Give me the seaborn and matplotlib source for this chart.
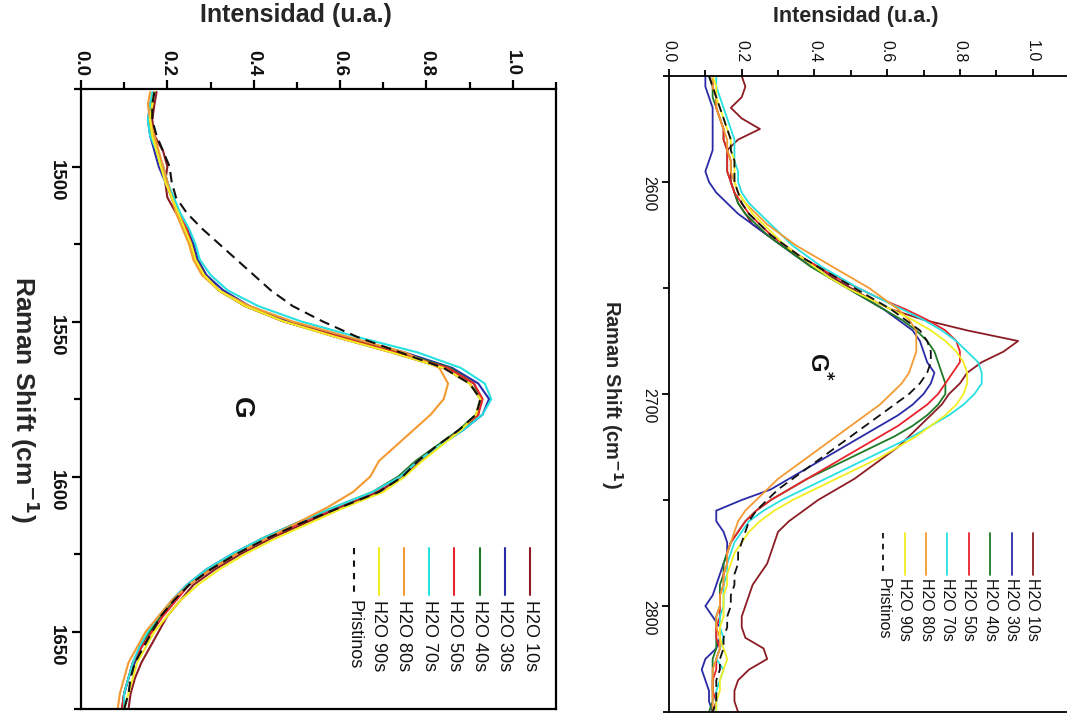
import numpy as np
import pandas as pd
import matplotlib
matplotlib.use("Agg")
import matplotlib.pyplot as plt
from matplotlib.ticker import MultipleLocator, FormatStrFormatter
import seaborn as sns

sns.set_theme(style="white")
plt.rcParams["font.family"] = ["Liberation Sans", "DejaVu Sans"]

SERIES = ["H2O 10s", "H2O 30s", "H2O 40s", "H2O 50s", "H2O 70s", "H2O 80s", "H2O 90s", "Pristinos"]
COLORS = {
    "H2O 10s": "#8c1c24",
    "H2O 30s": "#2a2aa6",
    "H2O 40s": "#1d7a26",
    "H2O 50s": "#e8232c",
    "H2O 70s": "#27e0e0",
    "H2O 80s": "#f59a32",
    "H2O 90s": "#f2ee22",
    "Pristinos": "#111111",
}

# ---- G band ----
g_shift = [1476, 1480, 1485, 1490, 1495, 1500, 1505, 1510, 1515, 1520, 1525, 1530, 1535, 1540,
           1545, 1550, 1555, 1560, 1565, 1570, 1575, 1580, 1585, 1590, 1595, 1600, 1605, 1610,
           1615, 1620, 1625, 1630, 1635, 1640, 1645, 1650, 1655, 1660, 1665, 1670, 1675]
g_10s = [.175, .17, .165, .17, .19, .20, .195, .20, .22, .245, .26, .27, .29, .32, .38, .47, .59, .72,
         .84, .90, .925, .92, .88, .83, .785, .745, .69, .60, .52, .44, .37, .31, .26, .23, .20,
         .18, .16, .14, .125, .115, .11]
g_30s = [.17, .16, .155, .16, .17, .18, .195, .21, .225, .245, .26, .27, .29, .33, .39, .48, .61, .75,
         .86, .92, .945, .93, .885, .83, .78, .74, .68, .59, .50, .42, .35, .29, .245, .21, .185,
         .16, .14, .125, .11, .10, .095]
g_40s = [.17, .16, .16, .165, .175, .19, .20, .21, .225, .24, .255, .265, .285, .32, .38, .47, .60, .74,
         .855, .91, .925, .915, .875, .825, .775, .735, .675, .585, .50, .42, .355, .295, .25, .215, .185,
         .16, .14, .12, .11, .10, .095]
g_50s = [.17, .165, .16, .165, .175, .19, .20, .21, .225, .245, .255, .265, .285, .32, .38, .47, .60, .73,
         .85, .91, .93, .92, .88, .83, .78, .74, .68, .59, .51, .43, .36, .30, .25, .22, .19,
         .165, .14, .12, .11, .10, .095]
g_70s = [.165, .16, .155, .16, .175, .19, .20, .215, .23, .25, .265, .275, .30, .34, .41, .51, .64, .78,
         .88, .935, .95, .93, .885, .83, .78, .74, .675, .585, .50, .42, .35, .29, .245, .21, .18,
         .155, .135, .12, .11, .10, .10]
g_80s = [.16, .155, .16, .17, .18, .19, .20, .21, .22, .235, .25, .26, .28, .32, .39, .49, .62, .75,
         .83, .85, .84, .81, .77, .73, .69, .67, .63, .57, .50, .43, .36, .30, .25, .21, .18,
         .15, .13, .11, .10, .09, .085]
g_90s = [.17, .165, .16, .165, .175, .185, .195, .21, .225, .24, .255, .265, .285, .32, .38, .47, .59, .72,
         .84, .90, .925, .915, .88, .835, .79, .75, .70, .61, .53, .45, .38, .32, .27, .23, .20,
         .17, .15, .13, .12, .11, .10]
g_pr = [.17, .165, .165, .175, .19, .205, .21, .22, .245, .28, .32, .36, .40, .44, .49, .56, .64, .74,
        .84, .90, .925, .915, .875, .825, .78, .745, .69, .60, .51, .43, .36, .30, .25, .215, .185,
        .165, .145, .125, .115, .11, .10]

# ---- G* band ----
gs_shift = [2550, 2555, 2560, 2565, 2570, 2575, 2580, 2585, 2590, 2595, 2600, 2605, 2610, 2615,
            2620, 2625, 2630, 2635, 2640, 2645, 2650, 2655, 2660, 2665, 2670, 2675, 2680, 2685,
            2690, 2695, 2700, 2705, 2710, 2715, 2720, 2725, 2730, 2735, 2740, 2745, 2750, 2755,
            2760, 2765, 2770, 2775, 2780, 2785, 2790, 2795, 2800, 2805, 2810, 2815, 2820, 2825,
            2830, 2835, 2840, 2845, 2850]
gs_10s = [.20, .21, .20, .17, .20, .25, .19, .16, .17, .17, .17, .18, .19, .21, .23, .27, .31, .36,
          .41, .45, .50, .55, .61, .70, .82, .96, .92, .86, .82, .80, .77, .75, .72, .69, .66, .63,
          .59, .55, .51, .46, .41, .37, .33, .30, .29, .28, .27, .25, .23, .22, .21, .20, .20, .21,
          .26, .27, .22, .19, .18, .18, .19]
gs_30s = [.10, .10, .11, .12, .12, .12, .12, .12, .11, .10, .11, .13, .16, .19, .23, .27, .31, .35,
          .40, .44, .49, .54, .59, .63, .67, .69, .70, .71, .73, .72, .70, .67, .63, .58, .53, .48,
          .43, .38, .33, .28, .20, .13, .13, .15, .16, .16, .15, .14, .13, .12, .10, .12, .14, .14,
          .13, .10, .09, .10, .11, .11, .12]
gs_40s = [.11, .12, .12, .13, .14, .15, .15, .16, .16, .16, .17, .18, .19, .21, .24, .27, .31, .35,
          .39, .44, .49, .54, .59, .64, .68, .71, .73, .74, .75, .76, .76, .74, .71, .67, .62, .56,
          .50, .44, .38, .33, .28, .24, .21, .19, .17, .16, .15, .15, .14, .14, .14, .13, .13, .13,
          .13, .12, .12, .12, .12, .12, .11]
gs_50s = [.12, .12, .13, .13, .14, .15, .15, .16, .16, .16, .17, .18, .20, .22, .25, .28, .32, .36,
          .41, .46, .52, .58, .65, .71, .76, .79, .80, .80, .78, .76, .74, .71, .67, .63, .58, .53,
          .48, .43, .38, .33, .28, .24, .21, .19, .17, .16, .16, .15, .15, .14, .14, .14, .13, .13,
          .14, .13, .13, .12, .12, .13, .12]
gs_70s = [.13, .13, .14, .15, .16, .17, .18, .18, .18, .19, .19, .20, .22, .25, .28, .31, .34, .38,
          .42, .47, .52, .58, .64, .70, .75, .79, .82, .85, .86, .86, .84, .81, .77, .72, .67, .61,
          .55, .49, .43, .37, .31, .26, .22, .20, .18, .17, .16, .16, .15, .15, .15, .14, .14, .15,
          .14, .13, .15, .14, .13, .13, .13]
gs_80s = [.12, .12, .13, .13, .14, .15, .16, .16, .17, .17, .18, .19, .21, .24, .27, .31, .35, .40,
          .45, .50, .55, .59, .63, .66, .68, .68, .68, .67, .66, .64, .61, .58, .54, .50, .46, .42,
          .38, .34, .30, .27, .24, .21, .19, .18, .17, .16, .16, .15, .15, .14, .14, .13, .13, .14,
          .14, .13, .12, .12, .12, .12, .12]
gs_90s = [.12, .13, .13, .14, .15, .16, .17, .17, .18, .18, .18, .19, .21, .23, .26, .29, .32, .36,
          .40, .44, .49, .55, .61, .67, .72, .76, .79, .81, .82, .82, .81, .79, .76, .72, .68, .63,
          .58, .52, .46, .40, .34, .29, .25, .22, .20, .18, .17, .16, .16, .15, .15, .15, .14, .14,
          .15, .16, .15, .14, .14, .13, .13]
gs_pr = [.11, .12, .13, .14, .15, .16, .17, .17, .18, .18, .18, .19, .20, .22, .25, .28, .32, .36,
         .41, .46, .51, .56, .61, .65, .69, .71, .72, .72, .71, .69, .66, .62, .58, .54, .50, .46,
         .42, .38, .34, .30, .27, .24, .22, .21, .20, .19, .19, .18, .18, .17, .17, .16, .16, .15,
         .15, .14, .14, .13, .13, .13, .12]

g_values = [g_10s, g_30s, g_40s, g_50s, g_70s, g_80s, g_90s, g_pr]
gs_values = [gs_10s, gs_30s, gs_40s, gs_50s, gs_70s, gs_80s, gs_90s, gs_pr]


def long_frame(shift, values):
    parts = [pd.DataFrame({"shift": shift, "intensidad": v, "serie": s})
             for s, v in zip(SERIES, values)]
    return pd.concat(parts, ignore_index=True)


df_g = long_frame(g_shift, g_values)
df_gs = long_frame(gs_shift, gs_values)

W, H = 1067, 713
fig = plt.figure(figsize=(W / 100, H / 100), dpi=100)
fig.patch.set_facecolor("white")


def px_axes(x0, y0, x1, y1):
    return fig.add_axes([x0 / W, 1 - y1 / H, (x1 - x0) / W, (y1 - y0) / H])


ax_g = px_axes(81, 89, 556, 709)
ax_s = px_axes(669, 76, 1069, 712)


def draw_panel(ax, df, lw):
    solid = df[df["serie"] != "Pristinos"]
    sns.lineplot(data=solid, x="intensidad", y="shift", hue="serie", palette=COLORS,
                 orient="y", estimator=None, sort=True, lw=lw, legend=False, ax=ax)
    sns.lineplot(data=df[df["serie"] == "Pristinos"], x="intensidad", y="shift",
                 orient="y", estimator=None, sort=True, lw=lw, color=COLORS["Pristinos"],
                 linestyle=(0, (5, 3)), legend=False, ax=ax)


def style_panel(ax, ylim, ymajor, yminor, tick_fs, tick_w, label_fs, lab_x, lab_y,
                ylab_x, tlen, pad_x, pad_y, sw):
    ax.set_facecolor("white")
    ax.set_xlim(0, 1.1)
    ax.set_ylim(*ylim)
    ax.xaxis.set_major_locator(MultipleLocator(0.2))
    ax.xaxis.set_minor_locator(MultipleLocator(0.1))
    ax.yaxis.set_major_locator(MultipleLocator(ymajor))
    ax.yaxis.set_minor_locator(MultipleLocator(yminor))
    ax.xaxis.tick_top()
    ax.xaxis.set_major_formatter(FormatStrFormatter("%.1f"))
    ax.tick_params(axis="both", which="both", direction="out", color="black",
                   width=sw, labelsize=tick_fs, labelcolor="#111111")
    ax.tick_params(axis="both", which="major", length=tlen)
    ax.tick_params(axis="both", which="minor", length=tlen * 0.8)
    ax.tick_params(axis="x", which="both", top=True, bottom=False, labeltop=True,
                   labelbottom=False, labelrotation=-90, pad=pad_x)
    ax.tick_params(axis="y", which="both", left=True, right=False, labelrotation=-90, pad=pad_y)
    for lab in ax.get_xticklabels() + ax.get_yticklabels():
        lab.set_fontweight(tick_w)
    for sp in ax.spines.values():
        sp.set_visible(True)
        sp.set_color("black")
        sp.set_linewidth(sw)
    ax.xaxis.set_label_position("top")
    ax.set_xlabel("Intensidad (u.a.)", fontsize=label_fs[0], fontweight="bold")
    ax.xaxis.set_label_coords(lab_x, lab_y)
    ax.set_ylabel("Raman Shift (cm$^{\\mathbf{-1}}$)", fontsize=label_fs[1], fontweight="bold",
                  rotation=-90, va="center", ha="center")
    ax.yaxis.set_label_coords(ylab_x, 0.5)


draw_panel(ax_g, df_g, 1.5)
draw_panel(ax_s, df_gs, 1.3)

style_panel(ax_g, (1675, 1475), 50, 25, 13.5, "bold", (18, 19),
            (296 - 81) / 475, 1 + (89 - 22) / 620, (25 - 81) / 475, 6.5, 3, 5, 1.6)
style_panel(ax_s, (2850, 2550), 100, 50, 11.5, "normal", (15.5, 14.5),
            (856 - 669) / 400, 1 + (76 - 22) / 636, (612 - 669) / 400, 5, 5, 4, 1.3)

ax_g.text(0.37, 1578, "G", rotation=-90, ha="center", va="center",
          fontsize=20, fontweight="bold", color="#111111")
ax_s.text(0.41, 2687, "G$^{\\mathbf{*}}$", rotation=-90, ha="center", va="center",
          fontsize=17, fontweight="bold", color="#111111")


def rotated_legend(ax, x_right, dx, y_line0, y_line1, y_text, fs, lw):
    # legend entries run right-to-left, each a short vertical sample plus rotated text
    for i, s in enumerate(SERIES):
        x = x_right - i * dx
        ls = (0, (3, 3)) if s == "Pristinos" else "-"
        ax.plot([x, x], [y_line0, y_line1], transform=ax.transAxes, color=COLORS[s],
                lw=lw, linestyle=ls, clip_on=False)
        ax.text(x, y_text, s, transform=ax.transAxes, rotation=-90, ha="center", va="top",
                fontsize=fs, color="#111111")


rotated_legend(ax_g, (530 - 81) / 475, 25.2 / 475, 1 - (548 - 89) / 620, 1 - (595 - 89) / 620,
               1 - (600 - 89) / 620, 13, 1.5)
rotated_legend(ax_s, (1033 - 669) / 400, 21.4 / 400, 1 - (533 - 76) / 636, 1 - (575 - 76) / 636,
               1 - (578 - 76) / 636, 11.5, 1.3)

fig.savefig("out.png", dpi=100, facecolor="white")
